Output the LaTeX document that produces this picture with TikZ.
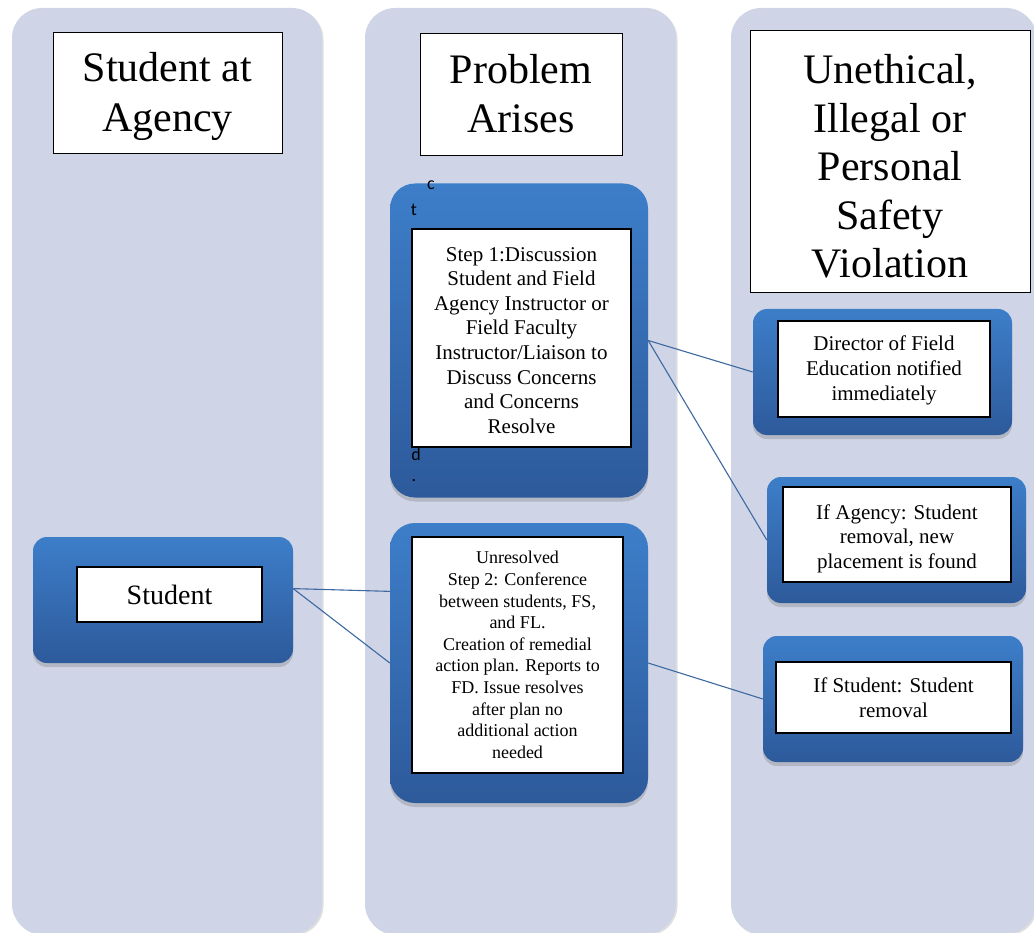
\documentclass[tikz,border=0pt]{standalone}
\usepackage{fontspec}
\setmainfont{Liberation Serif}
\newfontfamily\calfont{Carlito}
\usetikzlibrary{shadows}
\definecolor{lanecol}{RGB}{207,213,231}
\definecolor{bluetop}{RGB}{61,126,201}
\definecolor{bluebot}{RGB}{45,90,155}
\definecolor{linkcol}{RGB}{62,104,160}
\tikzset{
  lane/.style={fill=lanecol, rounded corners=30pt,
    drop shadow={opacity=0.25, shadow xshift=1.5pt, shadow yshift=-1.5pt}},
  bluebox/.style={rectangle, inner sep=0pt, top color=bluetop, bottom color=bluebot,
    drop shadow={opacity=0.35, shadow xshift=0pt, shadow yshift=-4pt}},
  whitebox/.style={rectangle, draw=black, line width=1.2pt, fill=white, inner sep=0pt, align=center},
  headbox/.style={whitebox, line width=0.8pt},
  link/.style={draw=linkcol, line width=1.1pt},
  stray/.style={font=\calfont\fontsize{18}{18}\selectfont, inner sep=0pt}
}
\begin{document}
\begin{tikzpicture}[x=1pt,y=-1pt]
      \useasboundingbox (0,0) rectangle (1034,933);
      \fill[lane] (12,8) rectangle (322,934);
      \fill[lane] (365,8) rectangle (676,934);
      \fill[lane] (731,8) rectangle (1036,934);

      \node[headbox, minimum width=229pt, minimum height=121pt, font=\fontsize{42}{50}\selectfont] (agency) at (167.5,92.5)
        {\rule{0pt}{37pt}Student at\\Agency};
      \node[headbox, minimum width=202pt, minimum height=122pt, font=\fontsize{42}{49}\selectfont] (arises) at (521,94)
        {Problem\\Arises};
      \node[headbox, minimum width=280pt, minimum height=262pt, font=\fontsize{42}{48.5}\selectfont] (violation) at (890,161)
        {\rule{0pt}{40pt}Unethical,\\Illegal or\\Personal\\Safety\\Violation};

      \node[bluebox, rounded corners=14pt, minimum width=260pt, minimum height=126pt] (studout) at (163,600) {};
      \node[bluebox, rounded corners=25pt, minimum width=258pt, minimum height=314pt] (step1out) at (519,340.5) {};
      \node[bluebox, rounded corners=25pt, minimum width=258pt, minimum height=280pt] (step2out) at (519,663) {};
      \node[bluebox, rounded corners=14pt, minimum width=259pt, minimum height=126pt] (dirout) at (882.5,372) {};
      \node[bluebox, rounded corners=14pt, minimum width=259pt, minimum height=126pt] (agout) at (896.5,540) {};
      \node[bluebox, rounded corners=14pt, minimum width=260pt, minimum height=126pt] (stout) at (893,699) {};

      \draw[link] (studout.5) -- (step2out.151);
      \draw[link] (studout.5) -- (step2out.west);
      \draw[link] (step1out.east) -- (dirout.west);
      \draw[link] (step1out.east) -- (agout.west);
      \draw[link] (step2out.east) -- (stout.west);

      \node[whitebox, minimum width=185pt, minimum height=55pt, font=\fontsize{28}{30}\selectfont] (student) at (169.5,594.5) {Student};
      \node[whitebox, minimum width=219pt, minimum height=218pt, font=\fontsize{21}{24.6}\selectfont] (step1) at (521.5,338)
        {\rule{0pt}{18.5pt}Step 1:Discussion\\Student and Field\\Agency Instructor or\\Field Faculty\\Instructor/Liaison to\\Discuss Concerns\\and Concerns\\Resolve};
      \node[whitebox, minimum width=211pt, minimum height=236pt, font=\fontsize{18}{21.6}\selectfont] (step2) at (517.5,655)
        {Unresolved\\Step 2: Conference\\between students, FS,\\and FL.\\Creation of remedial\\action plan. Reports to\\FD. Issue resolves\\after plan no\\additional action\\needed};
      \node[whitebox, minimum width=212pt, minimum height=96pt, font=\fontsize{21}{25}\selectfont] (director) at (884,369)
        {\rule{0pt}{18.5pt}Director of Field\\Education notified\\immediately};
      \node[whitebox, minimum width=228pt, minimum height=95pt, font=\fontsize{21}{24.5}\selectfont] (ifagency) at (897,534.5)
        {\rule{0pt}{22.5pt}If Agency: Student\\removal, new\\placement is found};
      \node[whitebox, minimum width=235pt, minimum height=71pt, font=\fontsize{21}{24.5}\selectfont] (ifstudent) at (893.5,697.5)
        {If Student: Student\\removal};

      \node[stray] (sc) at (431,185) {c};
      \node[stray] (st) at (414,210) {t};
      \node[stray] (sd) at (416,454) {d};
      \node[stray] (sdot) at (414,481) {.};
\end{tikzpicture}
\end{document}
